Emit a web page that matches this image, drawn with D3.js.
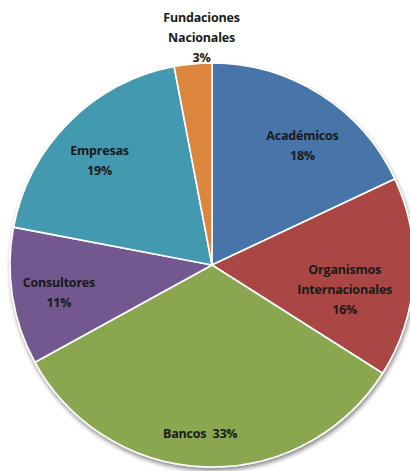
<!DOCTYPE html>
<html>
<head>
<meta charset="utf-8">
<script src="https://cdn.jsdelivr.net/npm/d3@7"></script>
<style>
  html, body { margin: 0; padding: 0; background: #ffffff; }
  svg { display: block; }
  .lbl { font-family: "Open Sans", "Liberation Sans", sans-serif; font-weight: 700; font-size: 12.5px; fill: #1a1a1a; white-space: pre; letter-spacing: -0.2px; }
</style>
</head>
<body>
<div id="chart"></div>
<script>
// Distribution of respondents by type of institution (percent)
const categories = ["Académicos", "Organismos Internacionales", "Bancos", "Consultores", "Empresas", "Fundaciones Nacionales"];
const values = [18, 16, 33, 11, 19, 3];
const labelLines = [
  ["Académicos", "18%"],
  ["Organismos", "Internacionales", "16%"],
  ["Bancos  33%"],
  ["Consultores", "11%"],
  ["Empresas", "19%"],
  ["Fundaciones", "Nacionales", "3%"]
];
const colors = ["#4674AA", "#AA4744", "#8AA64F", "#72598F", "#4299B0", "#DC853E"];

const width = 410, height = 471;
const cx = 212, cy = 265, radius = 202;

// label placement: radius from centre plus small per-slice nudges
const labelRadius = [152, 152, 152, 152, 152, 228];
const labelNudge = [[9, 9], [-19, 15], [-7, 17], [-3, 4], [-5, 3], [11, 0]];
const lineHeight = 20;

const svg = d3.select("#chart").append("svg")
  .attr("width", width).attr("height", height);

const defs = svg.append("defs");
const shadow = defs.append("filter").attr("id", "shadow")
  .attr("x", "-10%").attr("y", "-10%").attr("width", "120%").attr("height", "120%");
shadow.append("feGaussianBlur").attr("in", "SourceAlpha").attr("stdDeviation", 2.2).attr("result", "b");
shadow.append("feOffset").attr("in", "b").attr("dx", 1).attr("dy", 3).attr("result", "o");
shadow.append("feComponentTransfer").attr("in", "o").attr("result", "s")
  .append("feFuncA").attr("type", "linear").attr("slope", 0.45);
const merge = shadow.append("feMerge");
merge.append("feMergeNode").attr("in", "s");
merge.append("feMergeNode").attr("in", "SourceGraphic");

const data = categories.map((c, i) => ({ category: c, value: values[i], index: i }));

const pie = d3.pie().value(d => d.value).sort(null);
const arcs = pie(data);
const arc = d3.arc().innerRadius(0).outerRadius(radius);

const g = svg.append("g").attr("transform", `translate(${cx},${cy})`);

g.append("g").attr("filter", "url(#shadow)")
  .selectAll("path")
  .data(arcs)
  .join("path")
  .attr("d", arc)
  .attr("fill", d => colors[d.data.index])
  .attr("stroke", "#ffffff")
  .attr("stroke-width", 1.6)
  .attr("stroke-linejoin", "round");

const labels = g.append("g").selectAll("text")
  .data(arcs)
  .join("text")
  .attr("class", "lbl")
  .attr("text-anchor", "middle")
  .attr("transform", d => {
    const i = d.data.index;
    const la = d3.arc().innerRadius(labelRadius[i]).outerRadius(labelRadius[i]);
    const [x, y] = la.centroid(d);
    return `translate(${x + labelNudge[i][0]},${y + labelNudge[i][1]})`;
  });

labels.each(function(d) {
  const lines = labelLines[d.data.index];
  const t = d3.select(this);
  const top = -(lines.length - 1) * lineHeight / 2;
  lines.forEach((ln, k) => {
    t.append("tspan")
      .attr("x", 0)
      .attr("y", top + k * lineHeight)
      .attr("dy", "0.35em")
      .text(ln);
  });
});
</script>
</body>
</html>
